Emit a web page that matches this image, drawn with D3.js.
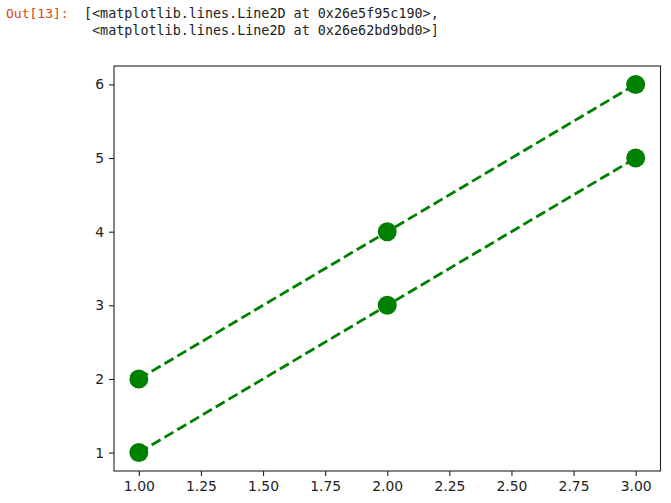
<!DOCTYPE html>
<html>
<head>
<meta charset="utf-8">
<script src="https://cdn.jsdelivr.net/npm/d3@7"></script>
<style>
  body { margin: 0; background: #fff; }
  svg { display: block; }
</style>
</head>
<body>
<svg id="chart" width="671" height="503"></svg>
<script>
"use strict";

// data
const xValues = [1, 2, 3];
const seriesA = [2, 4, 6];
const seriesB = [1, 3, 5];
const xTicks = [1.00, 1.25, 1.50, 1.75, 2.00, 2.25, 2.50, 2.75, 3.00];
const yTicks = [1, 2, 3, 4, 5, 6];
const outPrompt = "Out[13]:";
const outLines = [
    "[<matplotlib.lines.Line2D at 0x26e5f95c190>,",
    " <matplotlib.lines.Line2D at 0x26e62bd9bd0>]"
];

const svg = d3.select("#chart");
const box = {left: 114, right: 660.5, top: 66, bottom: 471};

// jupyter output text
svg.append("text")
    .attr("x", 6).attr("y", 18)
    .attr("fill", "#d84315")
    .style("font-family", "DejaVu Sans Mono, monospace")
    .style("font-size", "13px")
    .text(outPrompt);

svg.selectAll("text.out")
    .data(outLines)
    .enter()
    .append("text")
    .attr("class", "out")
    .attr("x", 84)
    .attr("y", (d, i) => 18 + i * 17)
    .attr("fill", "#222")
    .attr("xml:space", "preserve")
    .style("white-space", "pre")
    .style("font-family", "DejaVu Sans Mono, monospace")
    .style("font-size", "13.4px")
    .text(d => d);

const x = d3.scaleLinear().domain([0.9, 3.1]).range([box.left, box.right]);
const y = d3.scaleLinear().domain([0.75, 6.25]).range([box.bottom, box.top]);

// axes
const xAxis = svg.append("g")
    .attr("transform", "translate(0," + box.bottom + ")")
    .call(d3.axisBottom(x).tickValues(xTicks).tickFormat(d3.format(".2f")).tickSize(5).tickPadding(5));
const yAxis = svg.append("g")
    .attr("transform", "translate(" + box.left + ",0)")
    .call(d3.axisLeft(y).tickValues(yTicks).tickFormat(d3.format("d")).tickSize(5).tickPadding(5));

[xAxis, yAxis].forEach(g => {
    g.select("path.domain").remove();
    g.selectAll("text")
        .attr("fill", "#222")
        .style("font-family", "DejaVu Sans, sans-serif")
        .style("font-size", "13.9px");
    g.selectAll("line").attr("stroke", "#222").attr("stroke-width", 1.1);
});

// frame
svg.append("rect")
    .attr("x", box.left).attr("y", box.top)
    .attr("width", box.right - box.left)
    .attr("height", box.bottom - box.top)
    .attr("fill", "none")
    .attr("stroke", "#222")
    .attr("stroke-width", 1.1);

// lines
const line = d3.line()
    .x((d, i) => x(xValues[i]))
    .y(d => y(d));

[seriesA, seriesB].forEach(s => {
    svg.append("path")
        .datum(s)
        .attr("d", line)
        .attr("fill", "none")
        .attr("stroke", "green")
        .attr("stroke-width", 2.8)
        .attr("stroke-dasharray", "10.4,4.5");

    svg.selectAll(null)
        .data(s)
        .enter()
        .append("circle")
        .attr("cx", (d, i) => x(xValues[i]))
        .attr("cy", d => y(d))
        .attr("r", 9.5)
        .attr("fill", "green");
});
</script>
</body>
</html>
